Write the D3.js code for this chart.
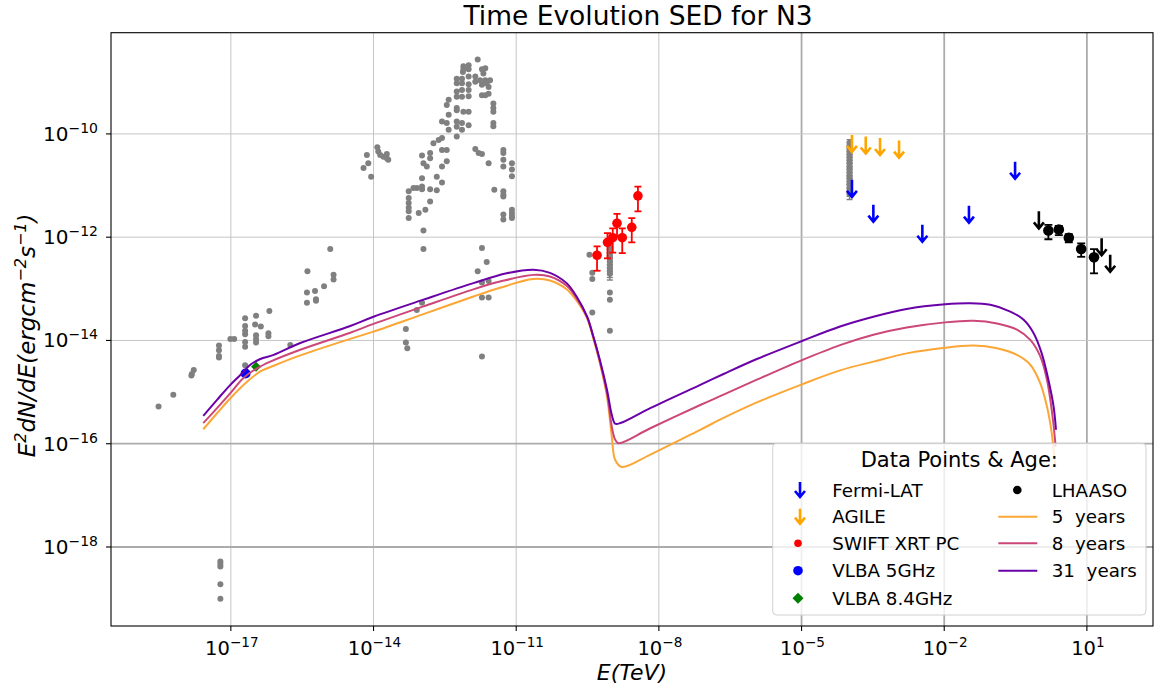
<!DOCTYPE html>
<html>
<head>
<meta charset="utf-8">
<script src="https://cdn.jsdelivr.net/npm/d3@7"></script>
<style>
  body { margin: 0; background: #fff; }
  text { font-family: "DejaVu Sans", sans-serif; fill: #000; }
</style>
</head>
<body>
<svg id="chart" width="1156" height="686"></svg>
<script>
// every value below is log10 : [log10 E(TeV), log10 E^2dN/dE (erg cm^-2 s^-1)]

// archival points (grey)
const archivePts = [
  [-11.81,-8.56],[-12.11,-8.69],[-12.00,-8.67],[-12.11,-8.75],[-12.00,-8.75],[-12.12,-8.80],
  [-11.72,-8.75],[-11.65,-8.73],[-11.69,-8.83],[-12.25,-8.93],[-12.14,-8.93],[-12.00,-8.89],
  [-11.86,-8.89],[-12.25,-9.02],[-12.14,-9.02],[-12.00,-9.04],[-11.86,-8.99],[-11.76,-8.96],
  [-11.65,-8.96],[-11.55,-8.96],[-11.62,-9.02],[-11.72,-9.05],[-11.58,-9.09],[-12.25,-9.18],
  [-12.14,-9.15],[-12.00,-9.15],[-11.72,-9.25],[-11.58,-9.22],[-11.65,-9.25],[-12.42,-9.34],
  [-12.25,-9.28],[-12.14,-9.28],[-12.00,-9.27],[-11.48,-9.41],[-11.48,-9.50],[-11.48,-9.57],
  [-12.46,-9.44],[-12.25,-9.50],[-12.11,-9.57],[-12.00,-9.57],[-12.25,-9.54],[-12.42,-9.63],
  [-12.56,-9.76],[-12.46,-9.79],[-12.25,-9.76],[-12.14,-9.79],[-12.00,-9.83],[-12.25,-9.86],
  [-11.48,-9.79],[-11.48,-9.85],[-12.42,-9.92],[-12.14,-9.92],[-12.25,-10.05],[-12.56,-10.08],
  [-12.63,-10.12],[-12.74,-10.18],
  [-11.86,-10.29],[-11.79,-10.37],[-11.72,-10.39],[-11.58,-10.57],[-12.56,-10.31],[-12.46,-10.31],
  [-12.81,-10.37],[-12.98,-10.42],[-12.81,-10.47],[-12.95,-10.57],[-12.88,-10.63],[-12.56,-10.63],
  [-12.46,-10.53],[-11.27,-10.31],[-11.27,-10.37],[-11.27,-10.50],[-11.27,-10.63],[-11.09,-10.57],
  [-11.09,-10.69],[-11.09,-10.82],[-12.98,-10.86],[-12.67,-10.83],[-12.56,-10.94],[-13.16,-11.05],
  [-13.09,-11.05],[-12.98,-11.02],[-12.98,-11.07],[-12.81,-11.07],[-12.67,-11.09],[-13.26,-11.11],
  [-11.46,-11.08],[-11.27,-11.11],[-11.27,-11.18],[-11.27,-11.21],[-13.26,-11.24],[-13.26,-11.34],
  [-13.26,-11.43],[-13.26,-11.50],[-13.05,-11.53],[-12.91,-11.47],[-12.81,-11.31],[-13.26,-11.63],
  [-11.27,-11.56],[-11.09,-11.47],[-11.09,-11.53],[-11.09,-11.59],[-11.27,-11.66],[-11.09,-11.63],
  [-12.95,-11.87],[-12.95,-12.23],[-11.72,-12.21],[-11.62,-12.48],[-11.81,-12.66],[-11.72,-12.88],
  [-11.58,-12.85],[-11.72,-13.17],[-11.58,-13.17],[-11.72,-14.31],[-12.98,-13.27],[-13.09,-13.41],
  [-13.32,-13.78],[-13.32,-14.04],[-13.29,-14.15],
  [-13.92,-10.26],[-13.90,-10.34],[-13.86,-10.41],[-13.79,-10.44],[-13.72,-10.39],[-13.72,-10.47],
  [-13.69,-10.50],[-14.14,-10.41],[-14.11,-10.57],[-14.21,-10.66],[-14.05,-10.83],
  [-14.91,-12.23],[-15.39,-12.66],[-14.84,-12.73],[-14.84,-12.82],[-15.04,-12.95],[-15.23,-13.04],
  [-15.40,-13.07],[-15.21,-13.20],[-15.21,-13.23],[-15.40,-13.27],
  [-16.19,-13.43],[-16.47,-13.52],[-16.70,-13.57],[-16.37,-13.73],[-16.49,-13.69],[-16.70,-13.72],
  [-16.70,-13.81],[-16.70,-13.88],[-16.47,-13.90],[-16.21,-13.86],[-16.21,-13.92],[-16.47,-13.97],
  [-16.47,-14.04],[-16.70,-14.03],[-16.70,-14.12],[-17.01,-13.97],[-16.93,-13.97],[-17.25,-14.10],
  [-17.25,-14.19],[-17.25,-14.30],[-17.25,-14.33],[-15.75,-14.09],[-16.70,-14.48],[-17.78,-14.57],
  [-17.82,-14.65],[-17.83,-14.68],[-18.52,-15.28],[-18.21,-15.05],
  [-17.22,-18.28],[-17.22,-18.33],[-17.22,-18.38],[-17.22,-18.72],[-17.22,-19.00],
  [-9.46,-12.34],[-9.40,-12.69],[-9.40,-12.81],[-9.40,-13.46],[-9.03,-13.07],[-9.03,-13.21],[-9.03,-13.81]
]
// grey points carrying error bars
const archiveErrX = [-9.03, -3.99]
const archiveErrY = [
  [-12.19,-12.24,-12.30,-12.37,-12.42,-12.47,-12.54,-12.60,-12.66,-12.71],
  [-10.17,-10.22,-10.29,-10.34,-10.41,-10.46,-10.52,-10.57,-10.64,-10.70,-10.75,-10.82,-10.87,-10.93,-10.98,-11.05,-11.11,-11.17]
]
const archiveErrDex = [0.12, 0.1]

// SWIFT XRT PC : E, flux, lower, upper
const swiftE  = [-9.30, -9.08, -8.97, -8.88, -8.77, -8.57, -8.44]
const swiftF  = [-12.35, -12.10, -12.01, -11.73, -12.01, -11.81, -11.20]
const swiftLo = [-12.65, -12.41, -12.30, -11.99, -12.31, -12.10, -11.50]
const swiftHi = [-12.18, -11.92, -11.83, -11.55, -11.83, -11.63, -11.02]

// upper limits
const fermiE = [-3.94, -3.49, -2.46, -1.48, -0.51]
const fermiF = [-10.89, -11.37, -11.76, -11.39, -10.54]
const agileE = [-3.94, -3.65, -3.35, -2.95]
const agileF = [-10.02, -10.05, -10.08, -10.13]

// LHAASO
const lhaasoE  = [0.19, 0.41, 0.62, 0.88, 1.15]
const lhaasoF  = [-11.87, -11.85, -12.01, -12.23, -12.39]
const lhaasoLo = [-12.04, -11.96, -12.10, -12.38, -12.70]
const lhaasoHi = [-11.76, -11.78, -11.94, -12.12, -12.23]
const lhaasoUlE = [-0.01, 1.31, 1.49]
const lhaasoUlF = [-11.50, -12.02, -12.34]

// radio
const vlba5 = [[-16.69, -14.64]]
const vlba84 = [[-16.47, -14.51]]

// model SED at three ages
const ages = ['5', '8', '31']
const sed5 = [
  [-17.58,-15.72],[-17.29,-15.41],[-17.01,-15.12],[-16.66,-14.80],[-16.38,-14.60],[-16.10,-14.49],
  [-15.54,-14.29],[-14.49,-13.97],[-14.00,-13.83],[-12.95,-13.49],[-11.90,-13.15],[-11.34,-12.98],
  [-10.64,-12.81],[-10.29,-12.84],[-9.94,-13.01],[-9.73,-13.23],[-9.51,-13.57],[-9.38,-13.96],
  [-9.24,-14.44],[-9.09,-15.09],[-8.99,-15.86],[-8.92,-16.31],[-8.78,-16.45],[-8.18,-16.21],
  [-7.13,-15.73],[-6.64,-15.50],[-5.94,-15.20],[-4.99,-14.85],[-4.19,-14.58],[-3.49,-14.41],
  [-2.79,-14.25],[-1.98,-14.14],[-1.39,-14.10],[-0.89,-14.15],[-0.47,-14.28],[-0.19,-14.47],
  [0.02,-14.83],[0.16,-15.28],[0.26,-15.79],[0.32,-16.31],[0.34,-16.45]
]
const sed8 = [
  [-17.58,-15.60],[-17.29,-15.31],[-17.01,-15.02],[-16.74,-14.73],[-16.45,-14.54],[-16.17,-14.41],
  [-15.54,-14.18],[-14.49,-13.85],[-14.00,-13.68],[-12.95,-13.34],[-11.90,-13.01],[-11.34,-12.86],
  [-10.64,-12.73],[-10.29,-12.76],[-9.94,-12.94],[-9.73,-13.18],[-9.51,-13.54],[-9.38,-13.92],
  [-9.24,-14.41],[-9.09,-15.02],[-8.99,-15.67],[-8.92,-15.92],[-8.85,-15.99],[-8.18,-15.70],
  [-7.13,-15.25],[-6.64,-15.05],[-5.94,-14.76],[-4.99,-14.38],[-4.19,-14.09],[-3.49,-13.89],
  [-2.79,-13.75],[-1.98,-13.65],[-1.39,-13.62],[-0.89,-13.67],[-0.47,-13.79],[-0.19,-13.99],
  [0.02,-14.31],[0.16,-14.76],[0.26,-15.34],[0.33,-15.92],[0.34,-16.06]
]
const sed31 = [
  [-17.58,-15.46],[-17.29,-15.15],[-17.01,-14.86],[-16.80,-14.67],[-16.59,-14.47],[-16.38,-14.36],
  [-16.10,-14.28],[-15.54,-14.05],[-14.49,-13.72],[-14.00,-13.54],[-12.95,-13.21],[-11.90,-12.89],
  [-11.20,-12.70],[-10.64,-12.63],[-10.29,-12.69],[-9.94,-12.89],[-9.73,-13.15],[-9.51,-13.54],
  [-9.38,-13.92],[-9.24,-14.38],[-9.09,-14.96],[-8.99,-15.44],[-8.92,-15.61],[-8.81,-15.60],
  [-8.18,-15.31],[-7.13,-14.86],[-6.64,-14.65],[-5.94,-14.36],[-4.99,-14.01],[-4.19,-13.73],
  [-3.49,-13.54],[-2.79,-13.39],[-1.98,-13.30],[-1.46,-13.28],[-1.03,-13.31],[-0.61,-13.44],
  [-0.33,-13.60],[-0.12,-13.86],[0.05,-14.25],[0.19,-14.76],[0.30,-15.28],[0.35,-15.73]
]
const sedColors = ['#fca636', '#cc4778', '#6a00a8']

const xTickExp = [-17, -14, -11, -8, -5, -2, 1]
const yTickExp = [-18, -16, -14, -12, -10]

const W = 1156, H = 686
const margin = {top: 32.7, right: 3, bottom: 60, left: 111}

const svg = d3.select('#chart')

const x = d3.scaleLog().domain([10 ** -19.52, 10 ** 2.39]).range([margin.left, W - margin.right])
const y = d3.scaleLog().domain([10 ** -19.53, 10 ** -8.04]).range([H - margin.bottom, margin.top])
const px = v => x(10 ** v)
const py = v => y(10 ** v)

svg.append('clipPath').attr('id', 'plotArea')
  .append('rect')
  .attr('x', margin.left).attr('y', margin.top)
  .attr('width', W - margin.left - margin.right)
  .attr('height', H - margin.top - margin.bottom)

// grid
const grid = svg.append('g')
grid.selectAll('.vgrid')
  .data(xTickExp)
  .enter().append('line')
  .attr('x1', e => px(e)).attr('x2', e => px(e))
  .attr('y1', margin.top).attr('y2', H - margin.bottom)
  .attr('stroke', e => e >= -5 ? '#ababab' : '#c6c6c6')
  .attr('stroke-width', e => e >= -5 ? 1.8 : 1)
grid.selectAll('.hgrid')
  .data(yTickExp)
  .enter().append('line')
  .attr('y1', e => py(e)).attr('y2', e => py(e))
  .attr('x1', margin.left).attr('x2', W - margin.right)
  .attr('stroke', e => e <= -16 ? '#ababab' : '#c6c6c6')
  .attr('stroke-width', e => e <= -16 ? 1.8 : 1)

const plot = svg.append('g').attr('clip-path', 'url(#plotArea)')

const errBar = (g, cx, lo, hi, color, w, cap) => {
  g.append('line').attr('x1', cx).attr('x2', cx).attr('y1', lo).attr('y2', hi)
    .attr('stroke', color).attr('stroke-width', w)
  ;[lo, hi].forEach(v => g.append('line')
    .attr('x1', cx - cap).attr('x2', cx + cap).attr('y1', v).attr('y2', v)
    .attr('stroke', color).attr('stroke-width', w))
}

const downArrow = (g, cx, top, color, len) => {
  g.append('path')
    .attr('d', `M${cx},${top}L${cx},${top + len}M${cx - 5},${top + len - 6}L${cx},${top + len}L${cx + 5},${top + len - 6}`)
    .attr('fill', 'none')
    .attr('stroke', color)
    .attr('stroke-width', 2.6)
}

const diamond = r => `M0,${-r}L${r},0L0,${r}L${-r},0Z`

// grey archival data
plot.selectAll('.archive')
  .data(archivePts)
  .enter().append('circle')
  .attr('cx', d => px(d[0]))
  .attr('cy', d => py(d[1]))
  .attr('r', 3)
  .attr('fill', '#808080')

archiveErrX.forEach((e, i) => {
  archiveErrY[i].forEach(f => {
    errBar(plot, px(e), py(f - archiveErrDex[i]), py(f + archiveErrDex[i] * 0.6), '#808080', 1.4, 3)
  })
  plot.selectAll(null)
    .data(archiveErrY[i])
    .enter().append('circle')
    .attr('cx', px(e))
    .attr('cy', f => py(f))
    .attr('r', 3)
    .attr('fill', '#808080')
})

// upper limits
fermiE.forEach((e, i) => downArrow(plot, px(e), py(fermiF[i]), '#0000ff', 17))
agileE.forEach((e, i) => downArrow(plot, px(e), py(agileF[i]), '#ffa500', 17))
lhaasoUlE.forEach((e, i) => downArrow(plot, px(e), py(lhaasoUlF[i]), '#000', 17))

// SWIFT
swiftE.forEach((e, i) => errBar(plot, px(e), py(swiftLo[i]), py(swiftHi[i]), '#ff0000', 1.8, 3.5))
plot.selectAll('.swift')
  .data(swiftE)
  .enter().append('circle')
  .attr('cx', e => px(e))
  .attr('cy', (e, i) => py(swiftF[i]))
  .attr('r', 4.8)
  .attr('fill', '#ff0000')

// LHAASO
lhaasoE.forEach((e, i) => errBar(plot, px(e), py(lhaasoLo[i]), py(lhaasoHi[i]), '#000', 1.8, 4))
plot.selectAll('.lhaaso')
  .data(lhaasoE)
  .enter().append('circle')
  .attr('cx', e => px(e))
  .attr('cy', (e, i) => py(lhaasoF[i]))
  .attr('r', 5.3)
  .attr('fill', '#000')

// radio
plot.selectAll('.vlba5')
  .data(vlba5)
  .enter().append('circle')
  .attr('cx', d => px(d[0])).attr('cy', d => py(d[1]))
  .attr('r', 5).attr('fill', '#0000ff')
plot.selectAll('.vlba84')
  .data(vlba84)
  .enter().append('path')
  .attr('d', diamond(5))
  .attr('transform', d => `translate(${px(d[0])},${py(d[1])})`)
  .attr('fill', '#008000')

// model curves
const line = d3.line()
  .x(d => px(d[0]))
  .y(d => py(d[1]))
  .curve(d3.curveCatmullRom.alpha(0.5))

const seds = [sed5, sed8, sed31]
plot.selectAll('.sed')
  .data(seds)
  .enter().append('path')
  .attr('d', line)
  .attr('fill', 'none')
  .attr('stroke', (d, i) => sedColors[i])
  .attr('stroke-width', 2)
  .attr('stroke-linejoin', 'round')

// frame
svg.append('rect')
  .attr('x', margin.left).attr('y', margin.top)
  .attr('width', W - margin.left - margin.right)
  .attr('height', H - margin.top - margin.bottom)
  .attr('fill', 'none').attr('stroke', '#000').attr('stroke-width', 1.1)

// ticks + labels
const powLabel = (sel, exp, sup) => {
  sel.append('tspan').text('10')
  sel.append('tspan').attr('dy', -8).attr('font-size', sup)
    .text(exp < 0 ? '\u2212' + Math.abs(exp) : String(exp))
}

xTickExp.forEach(e => {
  svg.append('line')
    .attr('x1', px(e)).attr('x2', px(e))
    .attr('y1', H - margin.bottom).attr('y2', H - margin.bottom + 5)
    .attr('stroke', '#000').attr('stroke-width', 1.1)
  const t = svg.append('text')
    .attr('x', px(e) + 1).attr('y', 655)
    .attr('text-anchor', 'middle')
    .attr('font-size', 19.5)
  powLabel(t, e, 13.6)
})

yTickExp.forEach(e => {
  svg.append('line')
    .attr('x1', margin.left - 5).attr('x2', margin.left)
    .attr('y1', py(e)).attr('y2', py(e))
    .attr('stroke', '#000').attr('stroke-width', 1.1)
  const t = svg.append('text')
    .attr('x', 98).attr('y', py(e) + 7)
    .attr('text-anchor', 'end')
    .attr('font-size', 20)
  powLabel(t, e, 14)
})

// titles
svg.append('text')
  .attr('x', (margin.left + W - margin.right) / 2 + 6).attr('y', 25)
  .attr('text-anchor', 'middle')
  .attr('font-size', 26.5)
  .text('Time Evolution SED for N3')

svg.append('text')
  .attr('x', (margin.left + W - margin.right) / 2).attr('y', 680)
  .attr('text-anchor', 'middle')
  .attr('font-size', 22)
  .attr('font-style', 'italic')
  .text('E(TeV)')

const yl = svg.append('text')
  .attr('transform', `translate(35,${(margin.top + H - margin.bottom) / 2 + 6}) rotate(-90)`)
  .attr('text-anchor', 'middle')
  .attr('font-size', 23)
  .attr('font-style', 'italic')
yl.append('tspan').text('E')
yl.append('tspan').attr('dy', -9).attr('font-size', 16).text('2')
yl.append('tspan').attr('dy', 9).text('dN/dE(ergcm')
yl.append('tspan').attr('dy', -9).attr('font-size', 16).text('\u22122')
yl.append('tspan').attr('dy', 9).text('s')
yl.append('tspan').attr('dy', -9).attr('font-size', 16).text('\u22121')
yl.append('tspan').attr('dy', 9).text(')')

// legend
const lg = svg.append('g')
lg.append('rect')
  .attr('x', 772.7).attr('y', 443.3)
  .attr('width', 373.3).attr('height', 171.7)
  .attr('rx', 4)
  .attr('fill', '#fff').attr('fill-opacity', 0.8)
  .attr('stroke', '#d0d0d0').attr('stroke-width', 1)
lg.append('text')
  .attr('x', 959.3).attr('y', 467)
  .attr('text-anchor', 'middle')
  .attr('font-size', 21)
  .text('Data Points & Age:')

const rowY = [490, 516.7, 543.3, 570.7, 598.3]
const leftLabels = ['Fermi-LAT', 'AGILE', 'SWIFT XRT PC', 'VLBA 5GHz', 'VLBA 8.4GHz']
const rightLabels = ['LHAASO'].concat(ages.map(a => a + '  years'))

leftLabels.forEach((s, i) => {
  lg.append('text')
    .attr('x', 832.3).attr('y', rowY[i] + 6.5)
    .attr('font-size', 18.3)
    .style('white-space', 'pre')
    .text(s)
})
rightLabels.forEach((s, i) => {
  lg.append('text')
    .attr('x', 1051.7).attr('y', rowY[i] + 6.5)
    .attr('font-size', 18.3)
    .style('white-space', 'pre')
    .text(s)
})
downArrow(lg, 800, rowY[0] - 8, '#0000ff', 15)
downArrow(lg, 800, rowY[1] - 8, '#ffa500', 15)
lg.append('circle').attr('cx', 798).attr('cy', rowY[2]).attr('r', 3.8).attr('fill', '#ff0000')
lg.append('circle').attr('cx', 798).attr('cy', rowY[3]).attr('r', 4.8).attr('fill', '#0000ff')
lg.append('path').attr('d', diamond(5.5))
  .attr('transform', `translate(798,${rowY[4]})`).attr('fill', '#008000')
lg.append('circle').attr('cx', 1017.3).attr('cy', rowY[0]).attr('r', 4.3).attr('fill', '#000')
sedColors.forEach((c, i) => {
  lg.append('line')
    .attr('x1', 998.3).attr('x2', 1037.3)
    .attr('y1', rowY[i + 1]).attr('y2', rowY[i + 1])
    .attr('stroke', c).attr('stroke-width', 2)
})
</script>
</body>
</html>
